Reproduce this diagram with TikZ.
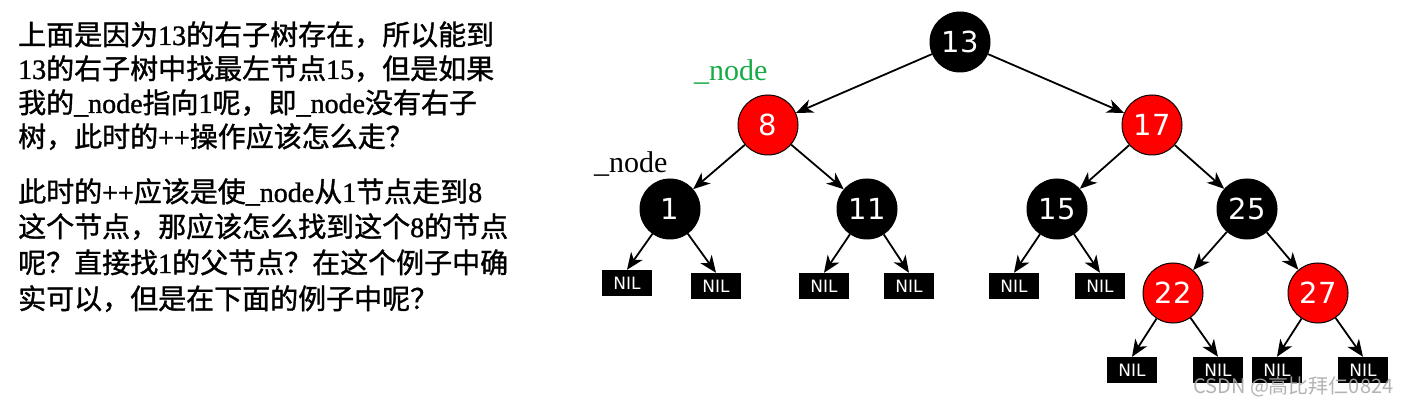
\documentclass[tikz,border=0pt]{standalone}
\usepackage{fontspec}
\usetikzlibrary{arrows.meta}
\newfontfamily\cjk[FakeBold=1.2]{Noto Sans CJK SC}
\newfontfamily\wmfont{Noto Sans CJK SC}
\newfontfamily\lat[FakeBold=1.2]{Liberation Serif}
\newfontfamily\lbfont{Liberation Serif}
\newfontfamily\dv{DejaVu Sans}
\definecolor{nodegreen}{RGB}{24,172,72}
\begin{document}
\begin{tikzpicture}[x=1pt,y=-1pt,
  txt/.style={anchor=base west, inner sep=0pt, font=\cjk\fontsize{28}{30}\selectfont},
  blk/.style={circle, fill=black, draw=black, line width=1pt, minimum size=60pt, inner sep=0pt, text=white, font=\dv\fontsize{29}{30}\selectfont},
  rbn/.style={blk, fill=red},
  nil/.style={fill=black, minimum width=50pt, minimum height=26pt, inner sep=0pt, text=white, font=\dv\fontsize{17}{18}\selectfont},
  arr/.style={-{Stealth[length=17pt,width=14pt,inset=5pt]}, line width=1.8pt},
  lbl/.style={anchor=base west, inner sep=0pt, font=\lbfont\fontsize{30}{30}\selectfont}]
\useasboundingbox (0,0) rectangle (1409,406);
\fill[white] (0,0) rectangle (1409,406);

% text
\node[txt] (t1) at (18,45) {上面是因为{\lat 13}的右子树存在，所以能到};
\node[txt] (t2) at (18,79) {{\lat 13}的右子树中找最左节点{\lat 15}，但是如果};
\node[txt] (t3) at (18,113) {我的{\lat \_node}指向{\lat 1}呢，即{\lat \_node}没有右子};
\node[txt] (t4) at (18,147) {树，此时的{\lat ++}操作应该怎么走？};
\node[txt] (t5) at (18,202) {此时的{\lat ++}应该是使{\lat \_node}从{\lat 1}节点走到{\lat 8}};
\node[txt] (t6) at (18,237) {这个节点，那应该怎么找到这个{\lat 8}的节点};
\node[txt] (t7) at (18,273) {呢？直接找{\lat 1}的父节点？在这个例子中确};
\node[txt] (t8) at (18,309) {实可以，但是在下面的例子中呢？};

% tree nodes
\node[blk] (n13) at (960,42) {13};
\node[rbn] (n8) at (768,125) {8};
\node[rbn] (n17) at (1152,125) {17};
\node[blk] (n1) at (670,209) {1};
\node[blk] (n11) at (867,209) {11};
\node[blk] (n15) at (1057,209) {15};
\node[blk] (n25) at (1247,209) {25};
\node[rbn] (n22) at (1173,293) {22};
\node[rbn] (n27) at (1318,293) {27};

\node[nil] (a1) at (627,283) {NIL};
\node[nil] (a2) at (716,286) {NIL};
\node[nil] (a3) at (824,286) {NIL};
\node[nil] (a4) at (909,286) {NIL};
\node[nil] (a5) at (1014,286) {NIL};
\node[nil] (a6) at (1100,286) {NIL};
\node[nil] (a7) at (1132,370) {NIL};
\node[nil] (a8) at (1218,370) {NIL};
\node[nil] (a9) at (1277,370) {NIL};
\node[nil] (a10) at (1363,370) {NIL};

% labels
\node[lbl, text=nodegreen] (g8) at (694,81) {\_node};
\node[lbl] (g1) at (594,173) {\_node};

% edges
\draw[arr] (n13) -- (n8);
\draw[arr] (n13) -- (n17);
\draw[arr] (n8) -- (n1);
\draw[arr] (n8) -- (n11);
\draw[arr] (n17) -- (n15);
\draw[arr] (n17) -- (n25);
\draw[arr] (n25) -- (n22);
\draw[arr] (n25) -- (n27);
\draw[arr] (n1) -- (a1.north);
\draw[arr] (n1) -- (a2.north);
\draw[arr] (n11) -- (a3.north);
\draw[arr] (n11) -- (a4.north);
\draw[arr] (n15) -- (a5.north);
\draw[arr] (n15) -- (a6.north);
\draw[arr] (n22) -- (a7.north);
\draw[arr] (n22) -- (a8.north);
\draw[arr] (n27) -- (a9.north);
\draw[arr] (n27) -- (a10.north);

% watermark
\node[anchor=base west, inner sep=0pt, text=gray!65, opacity=0.9, font=\wmfont\fontsize{20}{22}\selectfont] (wm) at (1193,393) {CSDN @高比拜仁0824};
\end{tikzpicture}
\end{document}
